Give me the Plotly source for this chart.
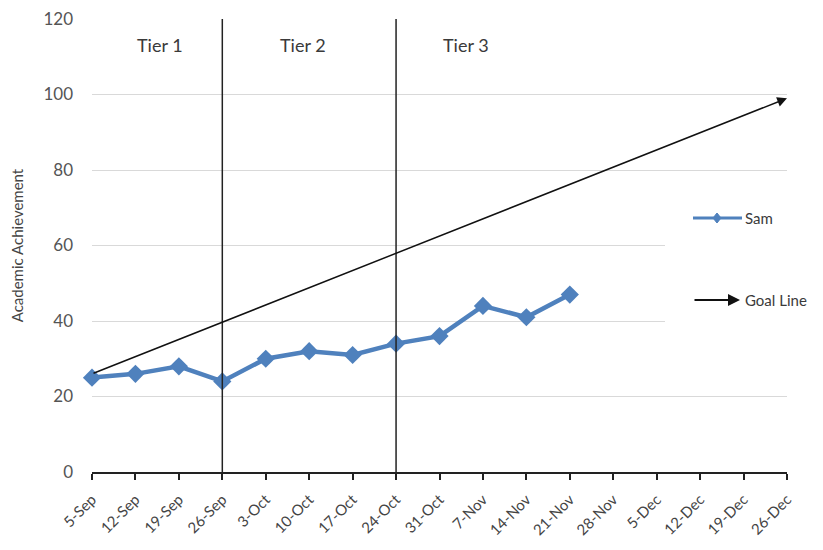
import plotly.graph_objects as go

# Weekly progress-monitoring dates (category axis)
dates = ["5-Sep", "12-Sep", "19-Sep", "26-Sep", "3-Oct", "10-Oct", "17-Oct",
         "24-Oct", "31-Oct", "7-Nov", "14-Nov", "21-Nov", "28-Nov", "5-Dec",
         "12-Dec", "19-Dec", "26-Dec"]

# Sam's scores for the weeks measured so far
sam_scores = [25, 26, 28, 24, 30, 32, 31, 34, 36, 44, 41, 47]

# Goal line: start and end values
goal_start = 26
goal_end = 99

# Tier boundaries (dates where intervention tier changes)
tier_changes = ["26-Sep", "24-Oct"]
tier_labels = ["Tier 1", "Tier 2", "Tier 3"]
tier_label_pos = [1.57, 4.86, 8.6]

y_ticks = [0, 20, 40, 60, 80, 100, 120]

FONT = "Lato, Open Sans, sans-serif"
BLUE = "#4f81bd"
TEXT = "#3a3a3a"

# plot area in pixels, used to place the hand-drawn legend
L, R, T, B = 92, 787, 19, 472


def px(x):
    return (x - L) / (R - L)


def py(y):
    return (B - y) / (B - T)


fig = go.Figure()

fig.add_trace(go.Scatter(
    x=dates[:len(sam_scores)], y=sam_scores, name="Sam",
    mode="lines+markers",
    line=dict(color=BLUE, width=4.5),
    marker=dict(symbol="diamond", size=14, color=BLUE),
    cliponaxis=False, showlegend=False,
))

shapes = []
# vertical tier dividers
for d in tier_changes:
    idx = dates.index(d)
    shapes.append(dict(type="line", xref="x", yref="y", x0=idx, x1=idx,
                       y0=0, y1=120, line=dict(color="#222222", width=1.5)))
# white panel behind the legend area
shapes.append(dict(type="rect", xref="paper", yref="paper",
                   x0=px(665), x1=px(830), y0=py(350), y1=py(200),
                   fillcolor="white", line=dict(width=0), layer="above"))
# legend: Sam line sample with small diamond
shapes.append(dict(type="line", xref="paper", yref="paper",
                   x0=px(693), x1=px(742), y0=py(218), y1=py(218),
                   line=dict(color=BLUE, width=3), layer="above"))
shapes.append(dict(type="path", xref="paper", yref="paper",
                   xsizemode="pixel", ysizemode="pixel",
                   xanchor=px(717), yanchor=py(218),
                   path="M0,5 L4,0 L0,-5 L-4,0 Z",
                   fillcolor=BLUE, line=dict(color=BLUE, width=1),
                   layer="above"))

annotations = []
# goal line arrow
annotations.append(dict(x=len(dates) - 1, y=goal_end, ax=0, ay=goal_start,
                        xref="x", yref="y", axref="x", ayref="y",
                        text="", showarrow=True, arrowhead=2, arrowsize=1.3,
                        arrowwidth=1.5, arrowcolor="#111111"))
for lbl, xp in zip(tier_labels, tier_label_pos):
    annotations.append(dict(x=xp, y=113, xref="x", yref="y", text=lbl,
                            showarrow=False,
                            font=dict(family=FONT, size=18, color=TEXT)))
# legend text
annotations.append(dict(x=px(743), y=py(218), xref="paper", yref="paper",
                        text="Sam", showarrow=False, xanchor="left",
                        font=dict(family=FONT, size=15, color=TEXT)))
annotations.append(dict(x=px(740), y=py(300), xref="paper", yref="paper",
                        ax=-47, ay=0, text="", showarrow=True, arrowhead=2,
                        arrowsize=1.2, arrowwidth=2, arrowcolor="#111111"))
annotations.append(dict(x=px(743), y=py(300), xref="paper", yref="paper",
                        text="Goal Line", showarrow=False, xanchor="left",
                        font=dict(family=FONT, size=15, color=TEXT)))

fig.update_layout(
    width=823, height=550,
    margin=dict(l=L, r=823 - R, t=T, b=550 - B),
    paper_bgcolor="white", plot_bgcolor="white",
    font=dict(family=FONT, color="#555555"),
    showlegend=False,
    shapes=shapes,
    annotations=annotations,
    xaxis=dict(type="category", categoryorder="array", categoryarray=dates,
               range=[0, len(dates) - 1], tickmode="array", tickvals=dates,
               ticktext=dates, tickangle=-45, automargin=False,
               tickfont=dict(size=15, color="#444444"),
               ticklabelstandoff=5,
               showline=True, linecolor="#222222", linewidth=2,
               ticks="outside", ticklen=6, tickwidth=1.5, tickcolor="#222222",
               showgrid=False, zeroline=False),
    yaxis=dict(range=[0, 120], tickvals=y_ticks, automargin=False,
               tickfont=dict(size=17, color="#555555"),
               ticklabelstandoff=18,
               showgrid=True, gridcolor="#d9d9d9", gridwidth=1,
               zeroline=False, showline=False, ticks="",
               title=dict(text="Academic Achievement",
                          font=dict(size=15, color="#444444"), standoff=16)),
)

fig.write_html("out.html")
